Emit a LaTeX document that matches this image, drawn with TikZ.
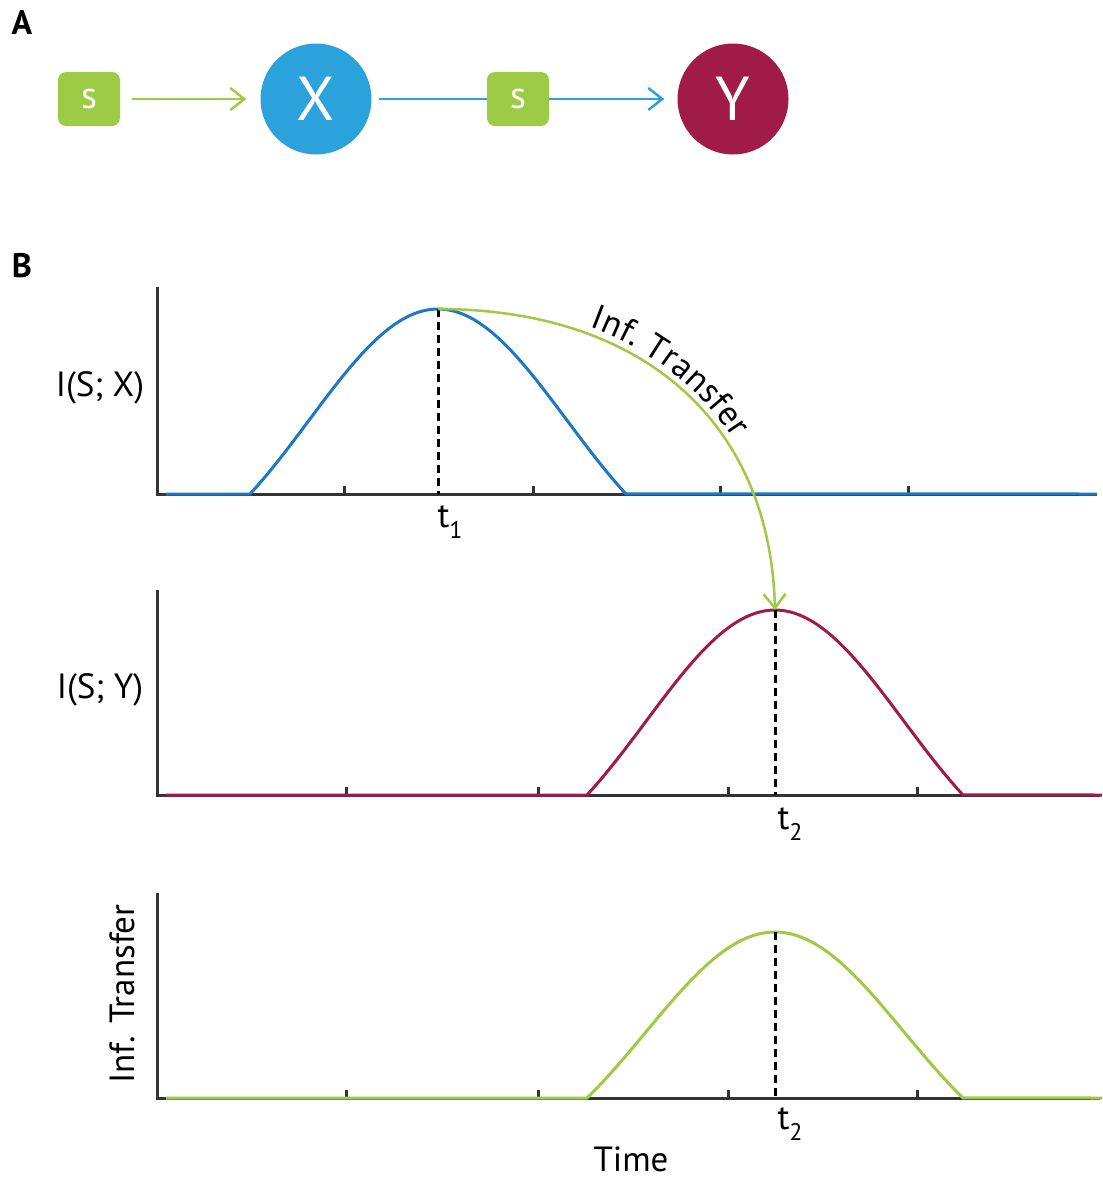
\documentclass[tikz,border=0pt]{standalone}
\usepackage{fontspec}
\setmainfont{PT Sans}
\usetikzlibrary{arrows.meta,decorations.text}
\definecolor{sgreen}{HTML}{9DCB45}
\definecolor{xblue}{HTML}{2CA2DC}
\definecolor{yred}{HTML}{A11B48}
\definecolor{pblue}{HTML}{1F78C1}
\definecolor{axisc}{HTML}{333333}
\newcommand{\tsub}[1]{t\raisebox{-0.3em}{\fontsize{24}{24}\selectfont #1}}
\begin{document}
\begin{tikzpicture}[x=1pt,y=-1pt,
  sbox/.style={fill=sgreen, rounded corners=8pt, minimum width=62pt, minimum height=54pt, text=white, font=\fontsize{38}{38}\selectfont, inner sep=0pt},
  circ/.style={circle, minimum size=111pt, inner sep=0pt, text=white, font=\fontsize{62}{62}\selectfont},
  tip/.style={-{Straight Barb[length=14pt,width=22pt,line width=2.5pt]}},
  axisline/.style={axisc, line width=3pt},
  curve/.style={line width=3pt},
  dline/.style={black, line width=3pt, dash pattern=on 8pt off 5pt},
  lab/.style={font=\fontsize{35}{35}\selectfont, inner sep=0pt},
  panel/.style={font=\fontsize{34}{34}\bfseries\selectfont, inner sep=0pt}
]
\useasboundingbox (0,0) rectangle (1103,1181);

% ---------- Panel A ----------
\node[panel] (A) at (22,23) {A};
\node[sbox] (s1) at (89,99) {s};
\node[circ, fill=xblue] (X) at (316,99) {X};
\node[sbox] (s2) at (518,99) {s};
\node[circ, fill=yred] (Y) at (733,99) {Y};
\draw[sgreen, line width=2.5pt, tip, shorten <=12pt, shorten >=14pt] (s1) -- (X);
\draw[xblue, line width=2.5pt, shorten <=7pt] (X) -- (s2);
\draw[xblue, line width=2.5pt, tip, shorten >=13pt] (s2) -- (Y);

% ---------- Panel B ----------
\node[panel] (B) at (22,266) {B};

% plot 1
\draw[axisline] (157,287) -- (157,494) -- (1097,494);
\foreach \t in {344,533,720,908} \draw[axisline] (\t,494) -- (\t,486);
\draw[pblue, curve] (166,494) -- (250,494) -- plot[domain=0:1, samples=90] ({250+376*\x},{494-185*(0.7*sin(180*\x)+0.15*(1-cos(360*\x)))}) -- (1097,494);
\coordinate (p1) at (438,309);
\draw[dline] (p1) -- (438,494);
\node[lab] (t1) at (450,522) {\tsub{1}};
\node[lab] (lx) at (100,388) {I(S; X)};

% plot 2
\draw[axisline] (157,590) -- (157,795) -- (1100,795);
\foreach \t in {346,538,728,917} \draw[axisline] (\t,795) -- (\t,787);
\draw[yred, curve] (166,795) -- (587,795) -- plot[domain=0:1, samples=90] ({587+376*\x},{795-185*(0.7*sin(180*\x)+0.15*(1-cos(360*\x)))}) -- (1102,795);
\coordinate (p2) at (775,610);
\draw[dline] (p2) -- (775,795);
\node[lab] (t2a) at (790,824) {\tsub{2}};
\node[lab] (ly) at (100,690) {I(S; Y)};

% plot 3
\draw[axisline] (157,893) -- (157,1098) -- (1100,1098);
\foreach \t in {346,538,728,917} \draw[axisline] (\t,1098) -- (\t,1090);
\draw[sgreen, curve] (166,1098) -- (587,1098) -- plot[domain=0:1, samples=90] ({587+376*\x},{1098-166*(0.7*sin(180*\x)+0.15*(1-cos(360*\x)))}) -- (1102,1098);
\coordinate (p3) at (775,932);
\draw[dline] (p3) -- (775,1098);
\node[lab] (t2b) at (790,1124) {\tsub{2}};
\node[lab, anchor=base] (time) at (631,1171) {Time};
\node[lab, rotate=90] (lit) at (122,994) {Inf. Transfer};

% information transfer arrow
\draw[sgreen, line width=2.5pt, tip] (p1) .. controls (640,309) and (770,420) .. (p2);
\path[decorate, decoration={text along path, raise=7pt,
   text align={left indent=152pt},
   text={|\fontsize{35}{35}\selectfont|Inf. Transfer}}]
   (p1) .. controls (640,309) and (770,420) .. (p2);
\end{tikzpicture}
\end{document}
